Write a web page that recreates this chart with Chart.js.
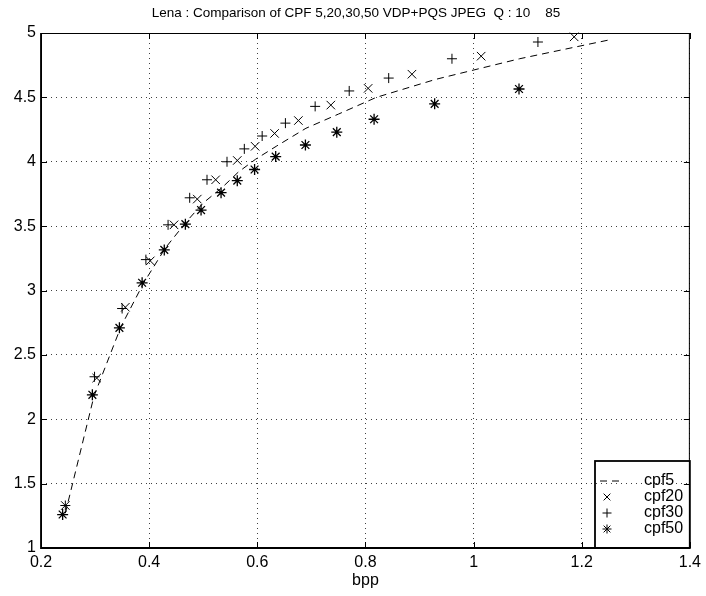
<!DOCTYPE html>
<html lang="en">
  <head>
    <meta charset="UTF-8" />
    <title>Lena CPF comparison</title>
    <style>
      html, body { margin: 0; padding: 0; background: #fff; }
      #wrap { position: relative; width: 706px; height: 596px; }
    </style>
  </head>
  <body>
    <div id="wrap"><canvas id="cpfChart"></canvas></div>
    <script src="https://cdn.jsdelivr.net/npm/chart.js"></script>
    <script>
      // data (bpp -> quality)
      const cpf5X = [0.245, 0.298, 0.348, 0.39, 0.43, 0.47, 0.50, 0.535, 0.565, 0.597, 0.635, 0.69, 0.75, 0.82, 0.93, 1.085, 1.255];
      const cpf5Y = [1.27, 2.18, 2.72, 3.06, 3.33, 3.54, 3.68, 3.80, 3.92, 4.02, 4.12, 4.26, 4.37, 4.50, 4.64, 4.80, 4.95];

      const cpf20X = [0.245, 0.303, 0.356, 0.402, 0.446, 0.489, 0.523, 0.563, 0.596, 0.632, 0.676, 0.736, 0.805, 0.886, 1.014, 1.186];
      const cpf20Y = [1.33, 2.32, 2.87, 3.23, 3.51, 3.71, 3.86, 4.01, 4.12, 4.22, 4.32, 4.44, 4.57, 4.68, 4.82, 4.97];

      const cpf30X = [0.245, 0.299, 0.35, 0.394, 0.435, 0.475, 0.507, 0.544, 0.576, 0.609, 0.652, 0.707, 0.770, 0.843, 0.960, 1.119];
      const cpf30Y = [1.33, 2.33, 2.86, 3.24, 3.51, 3.72, 3.86, 4.00, 4.10, 4.20, 4.30, 4.43, 4.55, 4.65, 4.80, 4.93];

      const cpf50X = [0.24, 0.295, 0.345, 0.387, 0.428, 0.467, 0.496, 0.533, 0.563, 0.595, 0.634, 0.689, 0.747, 0.816, 0.928, 1.084];
      const cpf50Y = [1.26, 2.19, 2.71, 3.06, 3.315, 3.515, 3.625, 3.76, 3.853, 3.94, 4.04, 4.13, 4.23, 4.33, 4.45, 4.565];

      const xTicks = [0.2, 0.4, 0.6, 0.8, 1, 1.2, 1.4];
      const yTicks = [1, 1.5, 2, 2.5, 3, 3.5, 4, 4.5, 5];

      const titleText = "Lena : Comparison of CPF 5,20,30,50 VDP+PQS JPEG  Q : 10    85";
      const xLabel = "bpp";
      const FONT = "'Liberation Sans', Arial, Helvetica, sans-serif";

      function pts(xs, ys) {
        return xs.map((x, i) => ({ x: x, y: ys[i] }));
      }

      // box, inward ticks, title, x label and legend, matlab style
      const matlabFrame = {
        id: "matlabFrame",
        afterDraw(chart) {
          const ctx = chart.ctx;
          const a = chart.chartArea;
          const xs = chart.scales.x;
          const ys = chart.scales.y;
          ctx.save();
          ctx.strokeStyle = "#000";
          ctx.lineWidth = 1;
          ctx.setLineDash([]);
          ctx.strokeRect(a.left + 0.5, a.top + 0.5, a.right - a.left - 1, a.bottom - a.top - 1);
          ctx.lineWidth = 1.8;
          ctx.beginPath();
          ctx.moveTo(a.left, a.top);
          ctx.lineTo(a.left, a.bottom);
          ctx.lineTo(a.right, a.bottom);
          ctx.stroke();

          ctx.lineWidth = 1;
          const tl = 6;
          ctx.beginPath();
          xTicks.forEach((v) => {
            const px = Math.round(xs.getPixelForValue(v)) + 0.5;
            ctx.moveTo(px, a.bottom);
            ctx.lineTo(px, a.bottom - tl);
            ctx.moveTo(px, a.top);
            ctx.lineTo(px, a.top + tl);
          });
          yTicks.forEach((v) => {
            const py = Math.round(ys.getPixelForValue(v)) + 0.5;
            ctx.moveTo(a.left, py);
            ctx.lineTo(a.left + tl, py);
            ctx.moveTo(a.right, py);
            ctx.lineTo(a.right - tl, py);
          });
          ctx.stroke();

          ctx.fillStyle = "#000";
          ctx.font = "13.5px " + FONT;
          ctx.textAlign = "center";
          ctx.textBaseline = "middle";
          ctx.fillText(titleText, 356, 13);
          ctx.font = "16px " + FONT;
          ctx.fillText(xLabel, (a.left + a.right) / 2, 581);

          // legend in the lower right corner
          const lx = 595, ly = 461, lw = a.right - lx, lh = a.bottom - ly;
          ctx.lineWidth = 1.8;
          ctx.strokeRect(lx, ly, lw, lh);
          const labels = ["cpf5", "cpf20", "cpf30", "cpf50"];
          const rows = [481, 497, 513, 529];
          ctx.font = "16px " + FONT;
          ctx.textAlign = "left";
          ctx.lineWidth = 1;
          labels.forEach((lab, i) => {
            const y = rows[i];
            ctx.fillText(lab, 644, y);
            ctx.beginPath();
            if (i === 0) {
              ctx.setLineDash([7, 5]);
              ctx.moveTo(600, y);
              ctx.lineTo(620, y);
              ctx.stroke();
              ctx.setLineDash([]);
            } else {
              const cx = 607, r = 4.5;
              if (i === 1 || i === 3) {
                ctx.moveTo(cx - r * 0.75, y - r * 0.75);
                ctx.lineTo(cx + r * 0.75, y + r * 0.75);
                ctx.moveTo(cx - r * 0.75, y + r * 0.75);
                ctx.lineTo(cx + r * 0.75, y - r * 0.75);
              }
              if (i === 2 || i === 3) {
                ctx.moveTo(cx - r, y);
                ctx.lineTo(cx + r, y);
                ctx.moveTo(cx, y - r);
                ctx.lineTo(cx, y + r);
              }
              ctx.stroke();
            }
          });
          ctx.restore();
        },
      };

      const ctx = document.getElementById("cpfChart").getContext("2d");
      new Chart(ctx, {
        type: "scatter",
        data: {
          datasets: [
            {
              label: "cpf5",
              data: pts(cpf5X, cpf5Y),
              showLine: true,
              borderColor: "#000",
              borderWidth: 1,
              borderDash: [7, 5],
              pointRadius: 0,
              fill: false,
              clip: false,
            },
            {
              label: "cpf20",
              data: pts(cpf20X, cpf20Y),
              pointStyle: "crossRot",
              pointRadius: 6,
              borderColor: "#000",
              borderWidth: 1,
              clip: false,
            },
            {
              label: "cpf30",
              data: pts(cpf30X, cpf30Y),
              pointStyle: "cross",
              pointRadius: 5,
              borderColor: "#000",
              borderWidth: 1,
              clip: false,
            },
            {
              label: "cpf50",
              data: pts(cpf50X, cpf50Y),
              pointStyle: "star",
              pointRadius: 5.5,
              borderColor: "#000",
              borderWidth: 1.3,
              clip: false,
            },
          ],
        },
        options: {
          responsive: true,
          maintainAspectRatio: false,
          animation: false,
          layout: { padding: { top: 33, right: 10, left: 0, bottom: 0 } },
          plugins: {
            legend: { display: false },
            title: { display: false },
            tooltip: { enabled: false },
          },
          scales: {
            x: {
              type: "linear",
              min: 0.2,
              max: 1.4,
              afterBuildTicks: (axis) => {
                axis.ticks = xTicks.map((v) => ({ value: v }));
              },
              afterFit: (axis) => {
                axis.height = 48;
              },
              ticks: {
                color: "#000",
                font: { family: FONT, size: 16 },
                padding: 5,
                maxRotation: 0,
                autoSkip: false,
                callback: (v) => String(v),
              },
              grid: { color: "rgba(0,0,0,0.75)", lineWidth: 1, drawTicks: false },
              border: { display: false, dash: [1, 4] },
            },
            y: {
              type: "linear",
              min: 1,
              max: 5,
              afterBuildTicks: (axis) => {
                axis.ticks = yTicks.map((v) => ({ value: v }));
              },
              afterFit: (axis) => {
                axis.width = 41;
              },
              ticks: {
                color: "#000",
                font: { family: FONT, size: 16 },
                padding: 5,
                autoSkip: false,
                callback: (v) => String(v),
              },
              grid: { color: "rgba(0,0,0,0.75)", lineWidth: 1, drawTicks: false },
              border: { display: false, dash: [1, 4] },
            },
          },
        },
        plugins: [matlabFrame],
      });
    </script>
  </body>
</html>
